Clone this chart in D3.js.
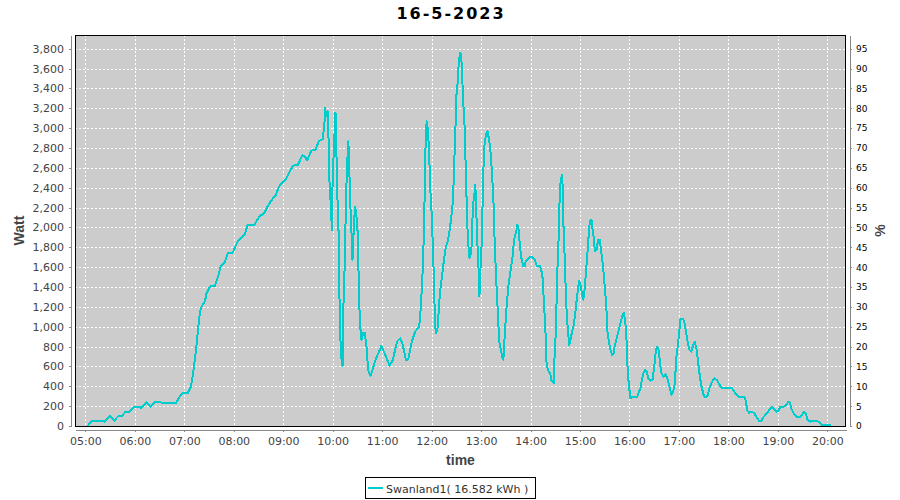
<!DOCTYPE html>
<html><head><meta charset="utf-8">
<script src="https://cdn.jsdelivr.net/npm/d3@7"></script>
<style>body{margin:0;background:#fff}svg{display:block}</style>
</head><body><svg id="c" width="900" height="500"></svg>
<script>
const title = "16-5-2023";
const seriesName = "Swanland1";
const energyKWh = "16.582";
const times = ["05:03","05:08","05:21","05:23","05:30","05:35","05:40","05:44","05:49","05:54","05:59","06:05","06:08","06:14","06:19","06:24","06:35","06:50","06:54","06:58","07:04","07:08","07:11","07:14","07:17","07:19","07:21","07:25","07:27","07:31","07:37","07:41","07:44","07:49","07:53","07:59","08:04","08:07","08:13","08:17","08:25","08:31","08:37","08:41","08:45","08:51","08:55","08:59","09:03","09:08","09:12","09:18","09:23","09:26","09:29","09:34","09:39","09:43","09:48","09:50","09:51","09:52","09:54","09:55","09:56","09:58","09:59","10:00","10:02","10:03","10:04","10:05","10:07","10:08","10:09","10:11","10:12","10:13","10:15","10:16","10:18","10:19","10:20","10:21","10:23","10:24","10:25","10:27","10:28","10:30","10:32","10:33","10:35","10:37","10:39","10:41","10:43","10:46","10:52","10:59","11:03","11:09","11:13","11:18","11:22","11:25","11:29","11:32","11:36","11:40","11:45","11:47","11:49","11:51","11:52","11:53","11:54","11:55","11:57","11:58","12:00","12:02","12:03","12:04","12:05","12:07","12:09","12:10","12:13","12:15","12:17","12:20","12:22","12:24","12:26","12:27","12:29","12:30","12:32","12:33","12:35","12:36","12:37","12:38","12:40","12:41","12:42","12:43","12:44","12:46","12:48","12:49","12:50","12:52","12:53","12:54","12:55","12:57","12:58","12:59","13:01","13:02","13:03","13:04","13:06","13:08","13:09","13:11","13:13","13:15","13:16","13:18","13:20","13:22","13:24","13:26","13:27","13:29","13:31","13:33","13:36","13:38","13:40","13:43","13:44","13:46","13:47","13:49","13:51","13:53","13:54","13:57","13:59","14:02","14:05","14:08","14:11","14:13","14:15","14:16","14:18","14:19","14:21","14:24","14:25","14:28","14:29","14:31","14:32","14:34","14:35","14:36","14:38","14:39","14:40","14:42","14:43","14:45","14:47","14:48","14:50","14:52","14:54","14:56","14:58","14:59","15:01","15:03","15:04","15:06","15:07","15:09","15:11","15:12","15:14","15:15","15:17","15:18","15:20","15:22","15:24","15:25","15:27","15:28","15:30","15:32","15:33","15:35","15:37","15:39","15:41","15:42","15:45","15:47","15:49","15:51","15:53","15:54","15:56","15:57","15:58","16:00","16:01","16:03","16:06","16:09","16:11","16:14","16:15","16:17","16:19","16:21","16:23","16:25","16:28","16:29","16:31","16:32","16:34","16:36","16:37","16:39","16:41","16:44","16:46","16:49","16:51","16:53","16:55","16:57","16:59","17:01","17:02","17:05","17:07","17:09","17:11","17:13","17:15","17:17","17:19","17:21","17:23","17:25","17:27","17:30","17:32","17:35","17:37","17:40","17:43","17:46","17:49","17:51","17:56","18:00","18:04","18:06","18:10","18:13","18:16","18:19","18:21","18:23","18:25","18:28","18:31","18:34","18:37","18:40","18:43","18:46","18:49","18:53","18:55","18:58","19:01","19:03","19:07","19:10","19:13","19:15","19:17","19:20","19:23","19:26","19:29","19:32","19:34","19:36","19:39","19:42","19:46","19:49","19:52","19:55","19:59","20:05"];
const watts = [0,55,55,45,100,55,100,100,145,145,195,195,180,240,195,240,235,235,290,330,330,396,548,749,1001,1152,1203,1253,1337,1404,1411,1505,1606,1646,1747,1747,1848,1882,1925,2026,2026,2110,2144,2211,2265,2328,2412,2453,2480,2564,2621,2631,2725,2715,2675,2772,2782,2866,2890,3051,3202,3118,3168,2883,2480,2177,1976,2513,2883,3152,3135,2480,2009,1404,934,632,605,1203,1740,2278,2715,2866,2648,2312,1908,1673,1875,2211,2177,2009,1337,1035,867,934,934,800,564,504,665,806,732,605,665,850,884,816,659,682,850,951,1001,1203,1539,2009,2614,2917,3068,3017,2782,2446,2144,1707,1371,1102,934,968,1203,1337,1539,1673,1791,1875,1976,2110,2278,2547,3017,3320,3488,3689,3760,3706,3555,3320,3017,2715,2412,2127,1875,1690,1740,1892,2211,2345,2429,2244,1942,1572,1304,1539,1875,2312,2614,2816,2933,2967,2917,2816,2580,2278,1976,1539,1200,850,766,682,665,951,1203,1404,1572,1690,1875,1976,2026,1959,1808,1690,1613,1606,1656,1680,1700,1700,1673,1606,1613,1572,1472,1270,1001,665,564,531,464,430,665,1001,1438,1875,2211,2429,2530,2412,2009,1572,1270,1001,816,850,934,1001,1119,1270,1404,1465,1404,1304,1270,1404,1522,1740,1976,2060,2076,1992,1875,1757,1774,1875,1875,1808,1673,1606,1404,1203,968,850,766,716,732,800,900,968,1035,1102,1142,1102,968,732,531,363,279,289,296,289,329,396,464,531,564,548,480,457,464,531,665,766,800,739,632,531,497,520,479,379,312,345,429,697,831,998,1082,1082,1032,931,831,764,747,804,848,797,663,529,412,312,288,312,379,446,479,462,422,389,379,379,385,362,312,288,288,295,261,154,134,141,134,94,54,54,94,121,154,194,178,144,154,194,194,211,245,228,161,117,94,87,111,141,127,67,44,50,50,44,20,7,7,7];
const wattTicks = d3.range(0, 3801, 200);
const pctTicks = d3.range(0, 96, 5);

const L = 75, R = 846, T = 35, B = 426;
const svg = d3.select("#c");
const parse = d3.timeParse("%H:%M");
const parseS = d3.timeParse("%H:%M:%S");
const data = times.map((t, i) => ({t: parse(t), w: watts[i]}));

const x = d3.scaleTime().domain([parseS("04:47:24"), parseS("20:22:42")]).range([L, R]);
const y = d3.scaleLinear().domain([0, 3937.5]).range([B, T]);
const yp = d3.scaleLinear().domain([0, 3937.5 / 40]).range([B, T]);
const hourTicks = x.ticks(d3.timeHour.every(1));

svg.append("rect").attr("x", L).attr("y", T).attr("width", R - L).attr("height", B - T).attr("fill", "#cccccc");

const grid = svg.append("g").attr("stroke", "#ffffff").attr("stroke-width", 1).attr("stroke-dasharray", "2,2").attr("shape-rendering", "crispEdges");
grid.selectAll(".vg").data(hourTicks).join("line")
  .attr("x1", d => Math.round(x(d)) + 0.5).attr("x2", d => Math.round(x(d)) + 0.5)
  .attr("y1", T).attr("y2", B);
grid.selectAll(".hg").data(wattTicks).join("line")
  .attr("y1", d => Math.round(y(d)) + 0.5).attr("y2", d => Math.round(y(d)) + 0.5)
  .attr("x1", L).attr("x2", R);

svg.append("path").datum(data)
  .attr("fill", "none").attr("stroke", "#00cccc").attr("stroke-width", 2).attr("stroke-linejoin", "round")
  .attr("shape-rendering", "crispEdges")
  .attr("d", d3.line().x(d => x(d.t)).y(d => y(d.w)));

svg.append("rect").attr("x", L + 0.5).attr("y", T + 0.5).attr("width", R - L - 1).attr("height", B - T)
  .attr("fill", "none").attr("stroke", "#000").attr("stroke-width", 1).attr("shape-rendering", "crispEdges");

function styleAxis(g, color, size) {
  g.select(".domain").attr("stroke", "#888");
  g.selectAll(".tick line").attr("stroke", "#888");
  g.selectAll(".tick text").attr("fill", color).style("font-family", "DejaVu Sans").style("font-size", size + "px");
  g.attr("shape-rendering", "crispEdges");
}

const gl = svg.append("g").attr("transform", "translate(71,0)")
  .call(d3.axisLeft(y).tickValues(wattTicks).tickFormat(d3.format(",")).tickSize(2).tickSizeOuter(0).tickPadding(5));
styleAxis(gl, "#444", 11);

const gr = svg.append("g").attr("transform", "translate(850,0)")
  .call(d3.axisRight(yp).tickValues(pctTicks).tickFormat(d3.format("d")).tickSize(2).tickSizeOuter(0).tickPadding(4));
styleAxis(gr, "#000", 9);

const gb = svg.append("g").attr("transform", "translate(0,430)")
  .call(d3.axisBottom(x).tickValues(hourTicks).tickFormat(d3.timeFormat("%H:%M")).tickSize(2).tickSizeOuter(0).tickPadding(5));
styleAxis(gb, "#444", 11);

svg.append("text").attr("x", 451).attr("y", 19).attr("text-anchor", "middle")
  .style("font-family", "DejaVu Sans").style("font-weight", "bold").style("font-size", "16px").style("letter-spacing", "2px")
  .attr("fill", "#000").text(title);

svg.append("text").attr("transform", "translate(24," + ((T + B) / 2) + ") rotate(-90)").attr("text-anchor", "middle")
  .style("font-family", "Liberation Sans").style("font-weight", "bold").style("font-size", "14px").attr("fill", "#444").text("Watt");
svg.append("text").attr("transform", "translate(885," + ((T + B) / 2) + ") rotate(-90)").attr("text-anchor", "middle")
  .style("font-family", "Liberation Sans").style("font-weight", "bold").style("font-size", "14px").attr("fill", "#444").text("%");
svg.append("text").attr("x", (L + R) / 2).attr("y", 465).attr("text-anchor", "middle")
  .style("font-family", "Liberation Sans").style("font-weight", "bold").style("font-size", "14px").attr("fill", "#444").text("time");

const lg = svg.append("g");
lg.append("rect").attr("x", 365.5).attr("y", 477.5).attr("width", 170).attr("height", 21)
  .attr("fill", "#fff").attr("stroke", "#000").attr("stroke-width", 1).attr("shape-rendering", "crispEdges");
lg.append("line").attr("x1", 368).attr("x2", 383).attr("y1", 488).attr("y2", 488).attr("stroke", "#00cccc").attr("stroke-width", 2);
lg.append("text").attr("x", 386).attr("y", 492.5)
  .style("font-family", "DejaVu Sans").style("font-size", "11px").attr("fill", "#333")
  .text(seriesName + "( " + energyKWh + " kWh )");
</script></body></html>
